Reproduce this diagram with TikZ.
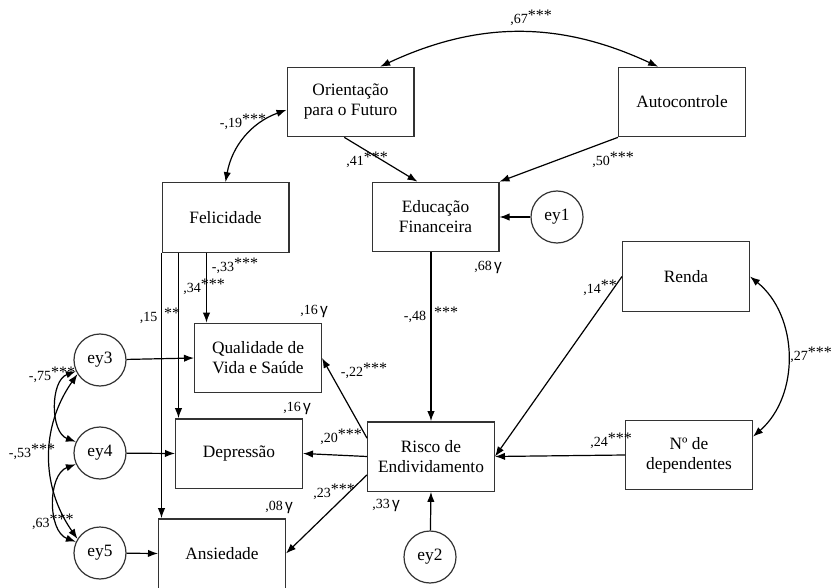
\documentclass[tikz,border=0pt]{standalone}
\usepackage{fontspec}
\setmainfont{Liberation Serif}
\newfontfamily\gfont{Liberation Sans}
\usetikzlibrary{arrows.meta}
\newcommand{\sig}[1]{\raisebox{.5ex}{\fontsize{12}{12}\selectfont#1}}
\newcommand{\rsq}{\,{\gfont\fontsize{11.5}{12}\selectfont γ}}

\begin{document}
\begin{tikzpicture}[x=0.75pt,y=0.75pt]

\tikzset{box/.style = {shape=rectangle,draw=black!80,line width=1pt,minimum width=95pt,minimum height=52pt,align=center,font=\fontsize{13}{15}\selectfont}}
\tikzset{err/.style = {shape=circle,draw=black!80,line width=0.9pt,minimum size=39pt,inner sep=0pt,font=\fontsize{13}{15}\selectfont}}
\tikzset{edge/.style = {->,> = {Latex[length=7.5pt,width=5.5pt]},line width=0.9pt}}
\tikzset{both/.style = {<->,> = {Latex[length=7.5pt,width=5.5pt]},line width=0.9pt}}
\tikzset{coef/.style = {font=\fontsize{10.5}{11}\selectfont,inner sep=0pt}}

\useasboundingbox (0,0) rectangle (832,-588);

%variables
\node[box] (orient) at (350.5,-102) {Orientação\\para o Futuro};
\node[box] (auto) at (682,-102) {Autocontrole};
\node[box] (felic) at (225.5,-217.5) {Felicidade};
\node[box] (educ) at (435.5,-217) {Educação\\Financeira};
\node[box] (renda) at (686,-276.5) {Renda};
\node[box] (qual) at (258,-358) {Qualidade de\\Vida e Saúde};
\node[box] (depr) at (239,-453.5) {Depressão};
\node[box] (risco) at (431,-456.5) {Risco de\\Endividamento};
\node[box] (dep) at (689,-455) {Nº de\\dependentes};
\node[box] (ansi) at (222,-553.5) {Ansiedade};

%errors
\node[err] (ey1) at (557,-217) {ey1};
\node[err] (ey2) at (430,-557) {ey2};
\node[err] (ey3) at (100,-360) {ey3};
\node[err] (ey4) at (100,-453) {ey4};
\node[err] (ey5) at (100,-553) {ey5};

%covariances
\draw[both] (orient.50) to[bend left=25] (auto.124);
\draw[both] (orient.187) to[bend right=30] (felic.north);
\draw[both] (renda.east) to[bend left=50] (dep.16);
\draw[both] (ey3.205) to[out=200,in=160] (ey4.155);
\draw[both] (ey4.205) to[out=200,in=160] (ey5.155);
\draw[both] (ey3.212) to[out=235,in=125] (ey5.148);

%paths
\draw[edge] (orient.260) -- (educ.117);
\draw[edge] (auto.south west) -- (educ.north east);
\draw[edge] (ey1) -- (educ.east);
\draw[edge] (educ.south -| risco.north) -- (risco.north);
\draw[edge] (renda.west) -- (risco.east);
\draw[edge] (dep.west) -- (risco.east);
\draw[edge] (ey2) -- (risco.south);
\draw[edge] (risco.164) -- (qual.east);
\draw[edge] (risco.west) -- (depr.east);
\draw[edge] (risco.196) -- (ansi.east);
\draw[edge] (felic.south west) -- (felic.south west |- ansi.north);
\path (felic.south west) ++(17,0) coordinate (f2) ++(28,0) coordinate (f3);
\draw[edge] (f2) -- (f2 |- depr.north);
\draw[edge] (f3) -- (f3 |- qual.north);
\draw[edge] (ey3) -- (qual.west);
\draw[edge] (ey4) -- (depr.west);
\draw[edge] (ey5) -- (ansi.west);

%estimates
\node[coef] (c1) at (531,-18) {,67\sig{***}};
\node[coef] (c2) at (243,-122) {-,19\sig{***}};
\node[coef] (c3) at (367,-160) {,41\sig{***}};
\node[coef] (c4) at (613,-160) {,50\sig{***}};
\node[coef] (c5) at (488,-267) {,68\rsq};
\node[coef] (c6) at (431,-315) {-,48\hspace{6pt}\sig{***}};
\node[coef] (c7) at (600,-288) {,14\sig{**}};
\node[coef] (c8) at (811,-355) {,27\sig{***}};
\node[coef] (c9) at (611,-441) {,24\sig{***}};
\node[coef] (c10) at (386,-505) {,33\rsq};
\node[coef] (c11) at (364,-371) {-,22\sig{***}};
\node[coef] (c12) at (341,-437) {,20\sig{***}};
\node[coef] (c13) at (334,-492) {,23\sig{***}};
\node[coef] (c14) at (314,-311) {,16\rsq};
\node[coef] (c15) at (297,-408) {,16\rsq};
\node[coef] (c16) at (279,-507) {,08\rsq};
\node[coef] (c17) at (235,-266) {-,33\sig{***}};
\node[coef] (c18) at (204,-287) {,34\sig{***}};
\node[coef] (c19) at (160,-316) {,15\hspace{5pt}\sig{**}};
\node[coef] (c20) at (52,-375) {-,75\sig{***}};
\node[coef] (c21) at (32,-452) {-,53\sig{***}};
\node[coef] (c22) at (53,-522) {,63\sig{***}};

\end{tikzpicture}
\end{document}
